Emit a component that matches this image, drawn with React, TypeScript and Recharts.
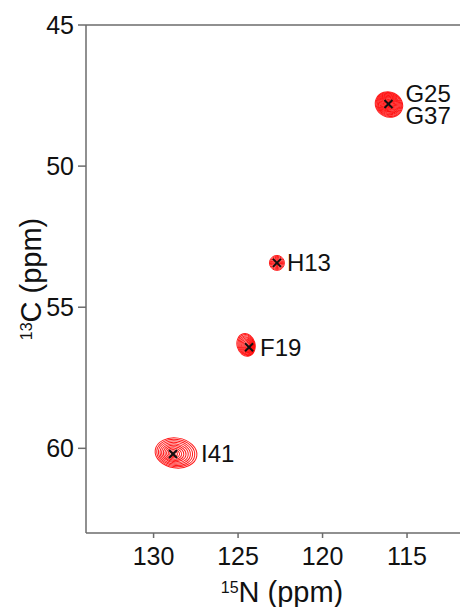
import React from 'react';
import { ScatterChart, Scatter, XAxis, YAxis, ReferenceLine } from 'recharts';

// chemical shifts
const peakLabels: string[][] = [['G25', 'G37'], ['H13'], ['F19'], ['I41']];
const n15Shift = [116.1, 122.7, 124.35, 128.85];
const c13Shift = [47.8, 53.43, 56.42, 60.2];

const xTicks = [115, 120, 125, 130];
const yTicks = [45, 50, 55, 60];

// contour look per peak (pixels), kept apart from the data
const CONTOUR = [
  { rx: 14, ry: 12.5, dx: 0.5, dy: 0.5, rot: 25, rings: 16, labelDx: 17 },
  { rx: 7.5, ry: 7.5, dx: 0, dy: 0, rot: 0, rings: 8, labelDx: 10 },
  { rx: 9, ry: 11.5, dx: -3, dy: -2.5, rot: -15, rings: 12, labelDx: 11 },
  { rx: 21, ry: 15, dx: 3, dy: -1, rot: 8, rings: 11, labelDx: 28 },
];

const AXIS = '#6b6b6b';
const FONT = '"Liberation Sans", Arial, Helvetica, sans-serif';

const data = n15Shift.map((n, i) => ({ n, c: c13Shift[i], labels: peakLabels[i], idx: i }));

const Peak: React.FC<any> = ({ cx, cy, payload }) => {
  if (cx == null || cy == null) return null;
  const s = CONTOUR[payload.idx];
  const rings = [];
  for (let k = 1; k <= s.rings; k++) {
    const t = k / s.rings;
    const ex = cx + s.dx * t;
    const ey = cy + s.dy * t;
    rings.push(
      <ellipse key={k} cx={ex} cy={ey} rx={s.rx * t} ry={s.ry * t}
        transform={`rotate(${s.rot} ${ex} ${ey})`}
        fill="none" stroke="#ff0000" strokeWidth={1} strokeOpacity={0.9} />
    );
  }
  const lines: string[] = payload.labels;
  const base = cy + 8.5 - (lines.length - 1) * 11;
  return (
    <g>
      {rings}
      <line x1={cx - 4} y1={cy - 4} x2={cx + 4} y2={cy + 4} stroke="#111" strokeWidth={2} />
      <line x1={cx - 4} y1={cy + 4} x2={cx + 4} y2={cy - 4} stroke="#111" strokeWidth={2} />
      {lines.map((l, j) => (
        <text key={l} x={cx + s.labelDx} y={base + j * 22} fontSize={24} fill="#111" fontFamily={FONT}>{l}</text>
      ))}
    </g>
  );
};

const XTitle: React.FC<any> = ({ viewBox }) => {
  const x = viewBox.x + viewBox.width / 2;
  const y = viewBox.y + 69;
  return (
    <text x={x} y={y} textAnchor="middle" fill="#111" fontFamily={FONT} fontSize={29}>
      <tspan fontSize={16} dy={-9}>15</tspan>
      <tspan dy={9}>N (ppm)</tspan>
    </text>
  );
};

const YTitle: React.FC<any> = ({ viewBox }) => {
  const x = 33;
  const y = viewBox.y + viewBox.height / 2;
  return (
    <text x={x} y={y} textAnchor="middle" fill="#111" fontFamily={FONT} fontSize={29}
      transform={`rotate(-90 ${x} ${y})`}>
      <tspan fontSize={16} dy={-9}>13</tspan>
      <tspan dy={9}>C (ppm)</tspan>
    </text>
  );
};

export default function App() {
  return (
    <div style={{ width: 460, height: 599, overflow: 'hidden' }}>
      <ScatterChart width={470} height={599} margin={{ top: 17, right: 0, left: 0, bottom: 0 }}
        style={{ fontFamily: FONT }}>
        <XAxis type="number" dataKey="n" domain={[110.8, 134]} reversed allowDataOverflow
          ticks={xTicks} height={74} tickSize={5} tickMargin={9}
          stroke={AXIS} strokeWidth={1.5}
          tick={{ fill: '#111', fontSize: 25, fontFamily: FONT }}
          label={{ content: (p: any) => <XTitle {...p} /> }} />
        <YAxis type="number" dataKey="c" domain={[45, 63]} reversed allowDataOverflow
          ticks={yTicks} width={78} tickSize={8} tickMargin={4}
          stroke={AXIS} strokeWidth={1.5}
          tick={{ fill: '#111', fontSize: 25, fontFamily: FONT }}
          label={{ content: (p: any) => <YTitle {...p} /> }} />
        <ReferenceLine y={45} stroke={AXIS} strokeWidth={1.5} />
        <Scatter data={data} isAnimationActive={false} shape={(p: any) => <Peak {...p} />} />
      </ScatterChart>
    </div>
  );
}
